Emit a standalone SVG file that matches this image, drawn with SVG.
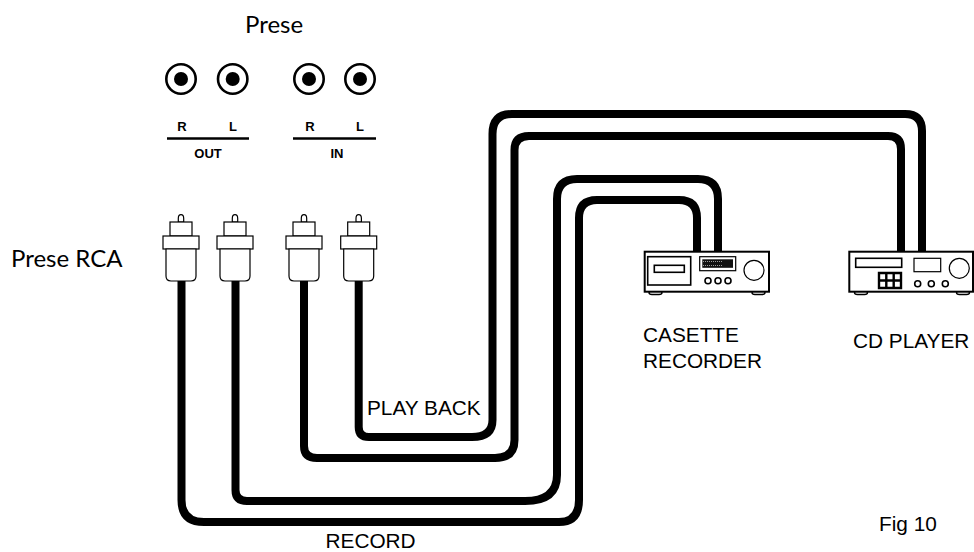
<svg xmlns="http://www.w3.org/2000/svg" width="974" height="552" viewBox="0 0 974 552">
<style>
text{font-family:"Liberation Sans",Arial,sans-serif;fill:#000}
.t{font-size:20.800px}
.h{font-family:Lato,"Liberation Sans",sans-serif;font-size:24px}
.lb{font-size:13px;font-weight:bold;text-anchor:middle}
.c{fill:none;stroke:#000;stroke-width:8}
.j{fill:#fff;stroke:#000;stroke-width:2.6}
.d{fill:#000}
.l{stroke:#000;stroke-width:2.4}
.s{fill:#fff;stroke:#000;stroke-width:1.2}
.m{fill:#fff;stroke:#000;stroke-width:1.6}
.g{stroke:#999;stroke-width:1;stroke-dasharray:1 1;fill:none}
</style>
<defs>
<g id="jack"><circle class="j" r="14.700"/><circle class="d" r="7"/></g>
<g id="plug">
<path class="s" d="M-2.700 222V218.500C-2.700 216 -1.500 214.700 0 214.700C1.500 214.700 2.700 216 2.700 218.500V222Z"/>
<rect class="s" x="-11" y="222" width="22" height="14"/>
<rect class="s" x="-18" y="236" width="36" height="13"/>
<path class="s" d="M-15 249V276Q-15 281 -10 281H10Q15 281 15 276V249Z"/>
</g>
<rect id="foot" x="-6.500" y="0" width="13" height="3.500" rx="3" fill="#fff" stroke="#000" stroke-width="1.400"/>
</defs>
<g id="connectors">
<path class="c" d="M358.700 281V427Q358.700 437 369 437H472Q492.500 437 492.500 420V134Q492.500 114 512 114H905Q922 114 922 131V252"/>
<path class="c" d="M304 281V446Q304 458 317 458H495Q514.500 458 514.500 440V150Q514.500 136 529 136H888Q901 136 901 149V252"/>
<path class="c" d="M235.500 281V490Q235.500 501 247 501H525Q557 501 557 475V199Q557 179 577 179H698Q718 179 718 199V252"/>
<path class="c" d="M181.500 281V500Q181.500 522 204 522H559Q579 522 579 500V218Q579 200 597 200H679Q697 200 697 218V252"/>
</g>
<g id="jacks">
<use href="#jack" x="181" y="79"/><use href="#jack" x="232.700" y="79"/><use href="#jack" x="309" y="79"/><use href="#jack" x="360" y="79"/>
<text class="lb" x="182" y="131">R</text><text class="lb" x="233" y="131">L</text>
<text class="lb" x="310" y="131">R</text><text class="lb" x="360" y="131">L</text>
<line class="l" x1="167" y1="138.500" x2="249" y2="138.500"/><line class="l" x1="293" y1="138.500" x2="376" y2="138.500"/>
<text class="lb" x="208" y="158">OUT</text><text class="lb" x="337" y="158">IN</text>
</g>
<g id="plug-1"><use href="#plug" x="181"/></g>
<g id="plug-2"><use href="#plug" x="235"/></g>
<g id="plug-3"><use href="#plug" x="304"/></g>
<g id="plug-4"><use href="#plug" x="358.700"/></g>
<g id="casette-recorder">
<use href="#foot" x="655.500" y="291"/><use href="#foot" x="758.500" y="291"/>
<rect class="m" x="644.700" y="251.700" width="124.300" height="40" style="stroke-width:2"/>
<rect class="m" x="647.700" y="256.700" width="43" height="28.300"/>
<rect class="m" x="654.300" y="265.300" width="30" height="7"/>
<rect class="s" x="699.700" y="256.700" width="36" height="14"/>
<rect x="702.300" y="259.300" width="30.700" height="8.500" fill="#111"/>
<path class="g" d="M703 261.500H723M703 265.500H723"/>
<circle class="m" cx="708" cy="280.700" r="3"/><circle class="m" cx="718" cy="280.700" r="3"/><circle class="m" cx="728" cy="280.700" r="3"/>
<circle class="s" cx="754" cy="270.300" r="10"/>
</g>
<g id="cd-player">
<use href="#foot" x="861" y="291"/><use href="#foot" x="963" y="291"/>
<rect class="m" x="849.300" y="251.700" width="123.700" height="40" style="stroke-width:2"/>
<rect class="m" x="855.700" y="258.300" width="46" height="9"/>
<rect class="s" x="914" y="258.300" width="26.700" height="13.400"/>
<circle class="s" cx="959.300" cy="268.300" r="10"/>
<circle class="m" cx="917.700" cy="283.700" r="3"/><circle class="m" cx="931.300" cy="283.700" r="3"/><circle class="m" cx="945.300" cy="283.700" r="3"/>
<path d="M879 273h22v15h-22zM886.300 273v15M893.700 273v15M879 280.500h22" fill="none" stroke="#000" stroke-width="2.400"/>
</g>
<g id="labels">
<text class="h" x="245" y="32.700">Prese</text>
<text class="h" x="11" y="266.700">Prese RCA</text>
<text class="t" x="367" y="415">PLAY BACK</text>
<text class="t" x="325.500" y="548.300">RECORD</text>
<text class="t" x="643" y="342.300">CASETTE</text>
<text class="t" x="643" y="368">RECORDER</text>
<text class="t" x="853" y="348">CD PLAYER</text>
<text class="t" x="879" y="531">Fig 10</text>
</g>
</svg>
